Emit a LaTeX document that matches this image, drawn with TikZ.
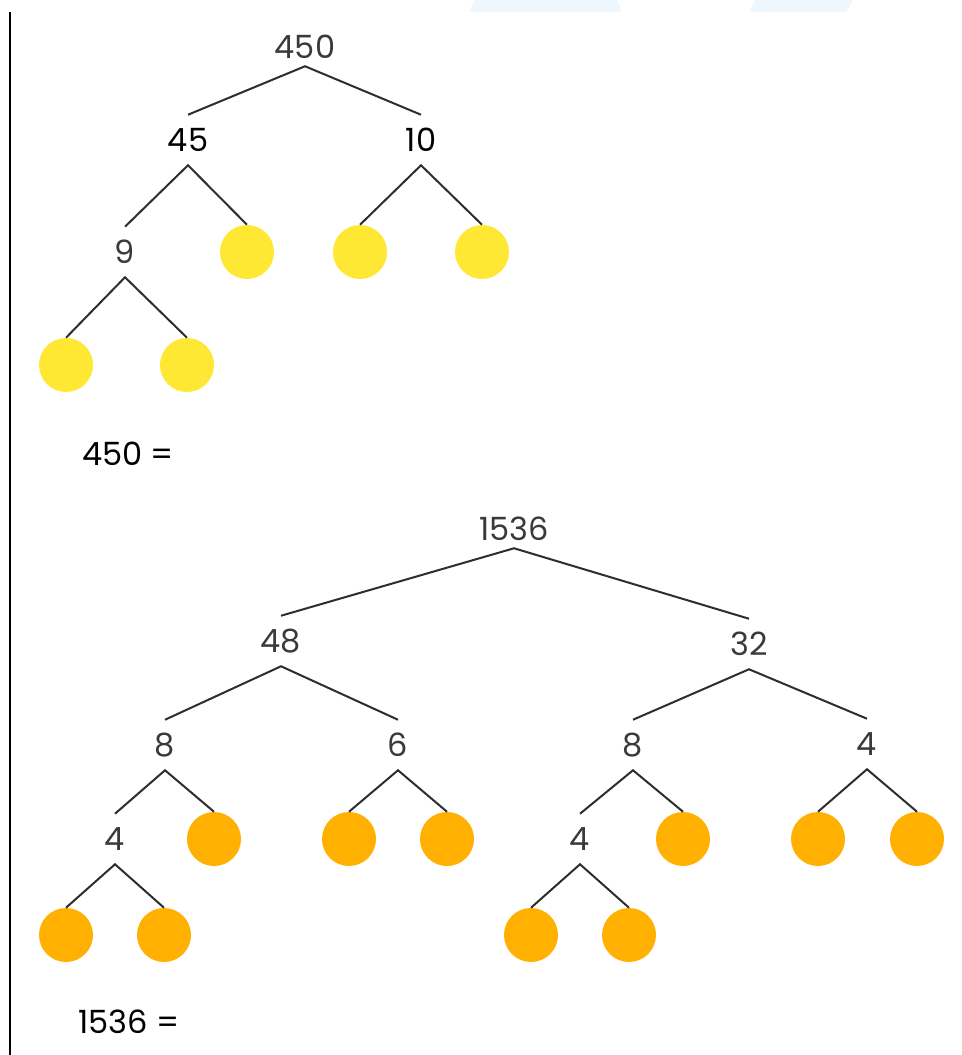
\documentclass[tikz,border=0pt]{standalone}
\usepackage{fontspec}
\setmainfont{Poppins}
\definecolor{yel}{HTML}{FFE833}
\definecolor{org}{HTML}{FFB000}
\definecolor{numgrey}{HTML}{3A3A3A}
\definecolor{linegrey}{HTML}{2E2E2E}
\definecolor{wm}{HTML}{EEF6FE}
\begin{document}
\begin{tikzpicture}[x=0.75pt,y=-0.75pt,
  num/.style={inner sep=0pt, minimum height=37.5pt, text=numgrey, font=\fontsize{24}{28}\selectfont},
  rootnum/.style={num, minimum height=28.5pt},
  lab/.style={inner sep=0pt, text=black, font=\fontsize{24}{28}\selectfont},
  yc/.style={circle, fill=yel, inner sep=0pt, minimum size=40.5pt},
  oc/.style={circle, fill=org, inner sep=0pt, minimum size=40.5pt},
  link/.style={draw=linegrey, line width=1.5pt}]
\fill[white] (0,0) rectangle (961,1055);
\useasboundingbox (0,0) rectangle (961,1055);
% faint background shapes
\fill[wm] (475,0) -- (617,0) to[bend left=8] (621,12) -- (469,12) -- cycle;
\fill[wm] (755,0) -- (853,0) -- (846,12) -- (750,12) -- cycle;
% left rule
\draw[line width=1.5pt, black] (9.5,12) -- (9.5,1055);

% ---------- tree 1 ----------
\node[rootnum] (t450) at (305,47) {450};
\node[num, text=black] (t45) at (188,140) {45};
\node[num, text=black] (t10) at (421,140) {10};
\node[num] (t9) at (125,252) {9};
\node[yc] (y1) at (247,252) {};
\node[yc] (y2) at (360,252) {};
\node[yc] (y3) at (482,252) {};
\node[yc] (y4) at (66,365) {};
\node[yc] (y5) at (187,365) {};
\node[lab] (l1) at (128,454) {450 =};

\draw[link] (t45.north) -- (t450.south) -- (t10.north);
\draw[link] (t9.north) -- (t45.south) -- (y1.north);
\draw[link] (y2.north) -- (t10.south) -- (y3.north);
\draw[link] (y4.north) -- (t9.south) -- (y5.north);

% ---------- tree 2 ----------
\node[rootnum] (r) at (514,529) {1536};
\node[num] (a48) at (281,641) {48};
\node[num] (a32) at (749,644) {32};
\node[num] (b8a) at (165,745) {8};
\node[num] (b6) at (398,745) {6};
\node[num] (b8b) at (633,745) {8};
\node[num] (b4) at (867,744) {4};
\node[num] (c4a) at (115,839) {4};
\node[oc] (o1) at (214,839) {};
\node[oc] (o2) at (349,839) {};
\node[oc] (o3) at (447,839) {};
\node[num] (c4b) at (580,839) {4};
\node[oc] (o4) at (683,839) {};
\node[oc] (o5) at (818,839) {};
\node[oc] (o6) at (917,839) {};
\node[oc] (o7) at (66,935) {};
\node[oc] (o8) at (164,935) {};
\node[oc] (o9) at (531,935) {};
\node[oc] (o10) at (629,935) {};
\node[lab] (l2) at (129,1022) {1536 =};

\draw[link] (a48.north) -- (r.south) -- (a32.north);
\draw[link] (b8a.north) -- (a48.south) -- (b6.north);
\draw[link] (b8b.north) -- (a32.south) -- (b4.north);
\draw[link] (c4a.north) -- (b8a.south) -- (o1.north);
\draw[link] (o2.north) -- (b6.south) -- (o3.north);
\draw[link] (c4b.north) -- (b8b.south) -- (o4.north);
\draw[link] (o5.north) -- (b4.south) -- (o6.north);
\draw[link] (o7.north) -- (c4a.south) -- (o8.north);
\draw[link] (o9.north) -- (c4b.south) -- (o10.north);
\end{tikzpicture}
\end{document}
